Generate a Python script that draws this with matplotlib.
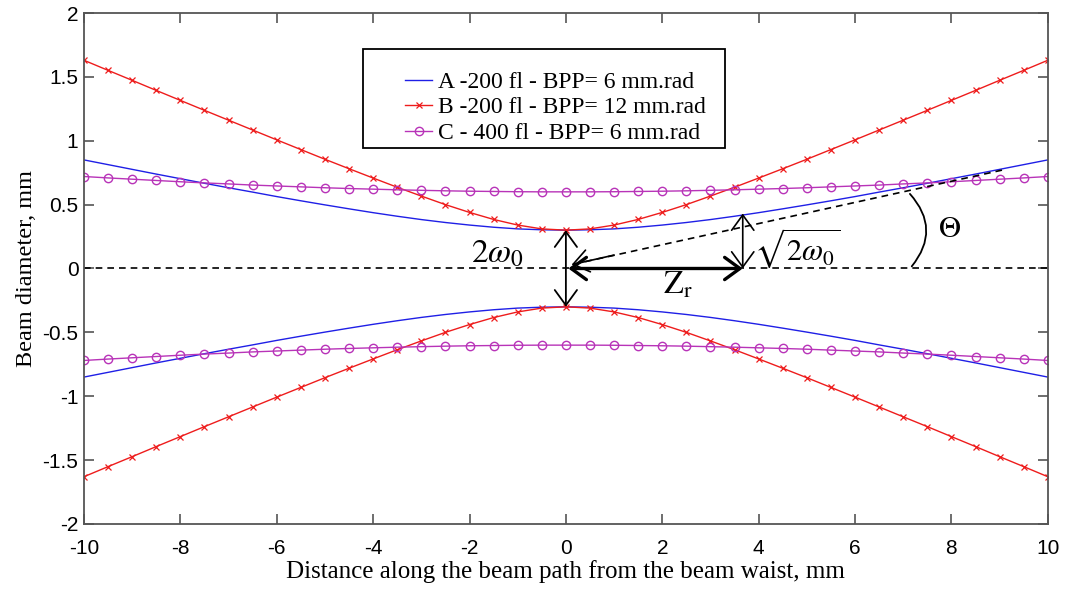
import numpy as np
import matplotlib
matplotlib.use("Agg")
import matplotlib.pyplot as plt
from matplotlib.patches import FancyArrowPatch, Rectangle

plt.rcParams["mathtext.fontset"] = "stix"

# distance from beam waist, mm
x_mm = [-10, -9.5, -9, -8.5, -8, -7.5, -7, -6.5, -6, -5.5, -5, -4.5, -4, -3.5,
        -3, -2.5, -2, -1.5, -1, -0.5, 0, 0.5, 1, 1.5, 2, 2.5, 3, 3.5, 4, 4.5,
        5, 5.5, 6, 6.5, 7, 7.5, 8, 8.5, 9, 9.5, 10]

# upper envelope; the lower one is the mirror
beam_a = [0.850, 0.813, 0.776, 0.739, 0.703, 0.667, 0.632, 0.598, 0.563, 0.530,
          0.498, 0.467, 0.437, 0.409, 0.383, 0.360, 0.340, 0.323, 0.310, 0.303,
          0.300, 0.303, 0.310, 0.323, 0.340, 0.360, 0.383, 0.409, 0.437, 0.467,
          0.498, 0.530, 0.563, 0.598, 0.632, 0.667, 0.703, 0.739, 0.776, 0.813,
          0.850]
beam_b = [1.630, 1.551, 1.473, 1.394, 1.316, 1.238, 1.161, 1.084, 1.007, 0.931,
          0.855, 0.781, 0.708, 0.636, 0.567, 0.500, 0.439, 0.384, 0.340, 0.310,
          0.300, 0.310, 0.340, 0.384, 0.439, 0.500, 0.567, 0.636, 0.708, 0.781,
          0.855, 0.931, 1.007, 1.084, 1.161, 1.238, 1.316, 1.394, 1.473, 1.551,
          1.630]
beam_c = [0.720, 0.709, 0.699, 0.689, 0.679, 0.670, 0.662, 0.653, 0.646, 0.639,
          0.632, 0.626, 0.621, 0.616, 0.612, 0.608, 0.605, 0.603, 0.601, 0.600,
          0.600, 0.600, 0.601, 0.603, 0.605, 0.608, 0.612, 0.616, 0.621, 0.626,
          0.632, 0.639, 0.646, 0.653, 0.662, 0.670, 0.679, 0.689, 0.699, 0.709,
          0.720]

labels = ["A -200 fl - BPP= 6 mm.rad",
          "B -200 fl - BPP= 12 mm.rad",
          "C - 400 fl - BPP= 6 mm.rad"]

z_r = 3.67
w0 = 0.30
w_zr = 0.43

fig = plt.figure(figsize=(10.67, 5.91), dpi=100)
ax = fig.add_axes([0.0787, 0.1134, 0.9033, 0.8646])

blue = "#1f1fe6"
red = "#ee1c1c"
mag = "#b833b8"

ax.plot(x_mm, beam_a, color=blue, lw=1.0, label=labels[0])
ax.plot(x_mm, beam_b, color=red, lw=1.0, marker="x", ms=5, mew=0.9, label=labels[1])
ax.plot(x_mm, beam_c, color=mag, lw=1.0, marker="o", ms=6, mfc="none", mew=1.0,
        label=labels[2])
ax.plot(x_mm, -np.array(beam_a), color=blue, lw=1.0)
ax.plot(x_mm, -np.array(beam_b), color=red, lw=1.0, marker="x", ms=5, mew=0.9)
ax.plot(x_mm, -np.array(beam_c), color=mag, lw=1.0, marker="o", ms=6, mfc="none",
        mew=1.0)

ax.axhline(0, color="black", ls="--", lw=1.2, dashes=(4, 3))

# annotations
head = "head_length=1.1,head_width=0.8"
ax.annotate("", xy=(0, w0), xytext=(0, -w0),
            arrowprops=dict(arrowstyle="<->," + head,
                            color="black", lw=1.3, shrinkA=0, shrinkB=0))
ax.annotate("", xy=(0.05, 0), xytext=(z_r, 0),
            arrowprops=dict(arrowstyle="<->," + head,
                            color="black", lw=2.4, shrinkA=0, shrinkB=0))
ax.annotate("", xy=(z_r, w_zr), xytext=(z_r, 0),
            arrowprops=dict(arrowstyle="<->," + head,
                            color="black", lw=1.2, shrinkA=0, shrinkB=0))
# dashed asymptote, solid open head at the waist
ax.plot([9.05, 0.14], [0.77, 0.032], color="black", lw=1.2, dashes=(4, 3))
ax.annotate("", xy=(0.12, 0.03), xytext=(1.0, 0.105),
            arrowprops=dict(arrowstyle="->," + head, color="black", lw=1.2,
                            shrinkA=0, shrinkB=0))
arc = FancyArrowPatch((7.10, 0.60), (7.14, 0.0), arrowstyle="-",
                      connectionstyle="arc3,rad=-0.45", color="black", lw=1.3)
ax.add_patch(arc)

ax.text(-1.43, 0.12, r"$2\omega_0$", fontsize=24, ha="center", va="center")
ax.text(4.8, 0.16, r"$\sqrt{2\omega_0}$", fontsize=22, ha="center", va="center")
ax.text(2.33, -0.13, r"$\mathrm{Z}_\mathrm{r}$", fontsize=23, ha="center", va="center")
ax.text(7.97, 0.31, r"$\Theta$", fontsize=22, ha="center", va="center")

ax.set_xlim(-10, 10)
ax.set_ylim(-2, 2)
ax.set_xticks(np.arange(-10, 11, 2))
ax.set_yticks(np.arange(-2, 2.1, 0.5))
ax.set_yticklabels(["-2", "-1.5", "-1", "-0.5", "0", "0.5", "1", "1.5", "2"])
ax.set_xticklabels([str(v) for v in range(-10, 11, 2)])
ax.tick_params(direction="in", top=True, right=True, length=7, width=1.2,
               color="#555555", labelsize=15, pad=4)
ax.tick_params(axis="x", pad=11)
for lab in ax.get_xticklabels() + ax.get_yticklabels():
    lab.set_fontfamily("Liberation Sans")
for s in ax.spines.values():
    s.set_color("#555555")
    s.set_linewidth(1.3)

ax.set_xlabel("Distance along the beam path from the beam waist, mm",
              fontfamily="Liberation Serif", fontsize=18, labelpad=1)
ax.set_ylabel("Beam diameter, mm", fontfamily="Liberation Serif", fontsize=17.5,
              labelpad=4)

# legend box drawn separately (uneven padding in the original)
ax.add_patch(Rectangle((0.2894, 0.7358), 0.3756, 0.1937, transform=ax.transAxes,
                       fill=True, facecolor="white", edgecolor="black", lw=1.3,
                       zorder=4))
leg = ax.legend(loc="upper left", bbox_to_anchor=(0.333, 0.886),
                prop={"family": "Liberation Serif", "size": 17},
                frameon=False, handlelength=1.15, handletextpad=0.25,
                borderpad=0, borderaxespad=0, labelspacing=0.17)
leg.set_zorder(5)

fig.savefig("out.png", dpi=100)
